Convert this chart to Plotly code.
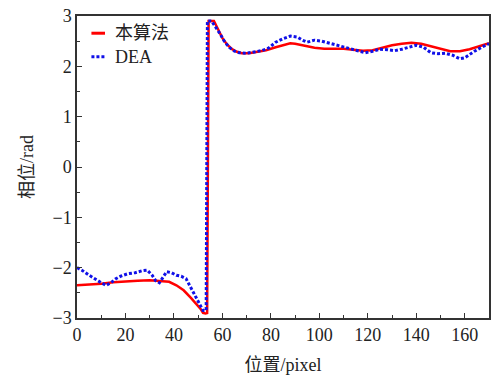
import plotly.graph_objects as go

# Phase profile across the step edge: proposed algorithm vs. DEA
x_ours = [0, 5, 10, 15, 20, 25, 30, 35, 38, 41, 44, 47, 49, 51, 52, 53, 53.7,
          54.3, 56.5, 58, 60, 62, 64, 66, 68, 71, 74, 78, 82, 86, 88, 90, 94,
          98, 102, 106, 110, 114, 118, 122, 126, 130, 134, 138, 142, 146, 150,
          154, 158, 162, 166, 170]
y_ours = [-2.35, -2.34, -2.32, -2.29, -2.27, -2.26, -2.25, -2.26, -2.28, -2.35,
          -2.45, -2.60, -2.70, -2.82, -2.90, -2.91, -2.90,
          2.90, 2.90, 2.75, 2.56, 2.43, 2.34, 2.29, 2.26, 2.26, 2.28, 2.32,
          2.38, 2.44, 2.46, 2.45, 2.41, 2.37, 2.35, 2.35, 2.35, 2.33, 2.31,
          2.32, 2.37, 2.42, 2.45, 2.47, 2.45, 2.40, 2.34, 2.30, 2.30, 2.34,
          2.40, 2.46]

x_dea = [0, 2, 5, 8, 10, 12, 14, 16, 18, 21, 24, 27, 29, 31, 32.5, 34, 35.5,
         37, 39, 41, 43, 45, 47, 49, 51, 52, 53.3,
         53.8, 55.5, 57, 59, 61, 63, 65, 67, 70, 73, 76, 79, 82, 85, 88, 91,
         93, 95, 98, 101, 104, 107, 110, 113, 116, 119, 122, 125, 128, 131,
         134, 137, 140, 143, 146, 149, 152, 155, 158, 160, 162, 164, 167, 170]
y_dea = [-2.00, -2.05, -2.15, -2.25, -2.30, -2.35, -2.30, -2.22, -2.17, -2.12,
         -2.10, -2.06, -2.05, -2.15, -2.26, -2.30, -2.18, -2.08, -2.10, -2.15,
         -2.17, -2.22, -2.40, -2.58, -2.75, -2.85, -2.85,
         2.90, 2.90, 2.80, 2.65, 2.48, 2.37, 2.30, 2.27, 2.26, 2.28, 2.31,
         2.36, 2.48, 2.55, 2.60, 2.58, 2.52, 2.48, 2.52, 2.50, 2.46, 2.42,
         2.39, 2.35, 2.30, 2.27, 2.30, 2.34, 2.33, 2.31, 2.34, 2.38, 2.42,
         2.38, 2.27, 2.25, 2.26, 2.22, 2.15, 2.17, 2.24, 2.30, 2.38, 2.45]

x_ticks = [0, 20, 40, 60, 80, 100, 120, 140, 160]
y_ticks = [-3, -2, -1, 0, 1, 2, 3]

series_names = ["本算法", "DEA"]
series_colors = ["#ff0000", "#1010e8"]
series_dash = ["solid", "3px,2px"]
series_width = [2.5, 3]

FONT = "Liberation Serif, 'Noto Sans CJK SC', serif"
TXT = "#222222"
AX = "#333333"

fig = go.Figure()
for xs, ys, name, col, dash, w in zip([x_ours, x_dea], [y_ours, y_dea],
                                      series_names, series_colors,
                                      series_dash, series_width):
    fig.add_trace(go.Scatter(x=xs, y=ys, mode="lines", name=name,
                             showlegend=False,
                             line=dict(color=col, width=w, dash=dash)))

# compact legend in the upper-left corner: short line sample + label
legend_rows_y = [0.943, 0.865]
for name, col, dash, w, ly in zip(series_names, series_colors, series_dash,
                                  series_width, legend_rows_y):
    fig.add_shape(type="line", xref="paper", yref="paper",
                  x0=0.035, x1=0.068, y0=ly, y1=ly,
                  line=dict(color=col, width=3, dash=dash))
    fig.add_annotation(xref="paper", yref="paper", x=0.087, y=ly,
                       xanchor="left", yanchor="middle", showarrow=False,
                       text=name, font=dict(family=FONT, size=18, color=TXT))

axis_common = dict(
    showline=True, linecolor=AX, linewidth=1.5, mirror=True,
    ticks="inside", ticklen=5, tickwidth=1, tickcolor=AX,
    showgrid=False, zeroline=False,
    tickfont=dict(family=FONT, size=18, color=TXT),
)

fig.update_xaxes(
    range=[0, 170], tickvals=x_ticks,
    minor=dict(dtick=10, ticks="inside", ticklen=3, tickcolor=AX),
    title=dict(text="位置/pixel", font=dict(family=FONT, size=18, color=TXT),
               standoff=14),
    **axis_common,
)
fig.update_yaxes(
    range=[-3, 3], tickvals=y_ticks,
    minor=dict(dtick=0.5, ticks="inside", ticklen=3, tickcolor=AX),
    title=dict(text="相位/rad", font=dict(family=FONT, size=18, color=TXT),
               standoff=14),
    **axis_common,
)

fig.update_layout(
    width=492, height=377,
    margin=dict(l=77, r=1, t=16, b=59),
    paper_bgcolor="white", plot_bgcolor="white",
    showlegend=False,
)

fig.write_html("out.html")
